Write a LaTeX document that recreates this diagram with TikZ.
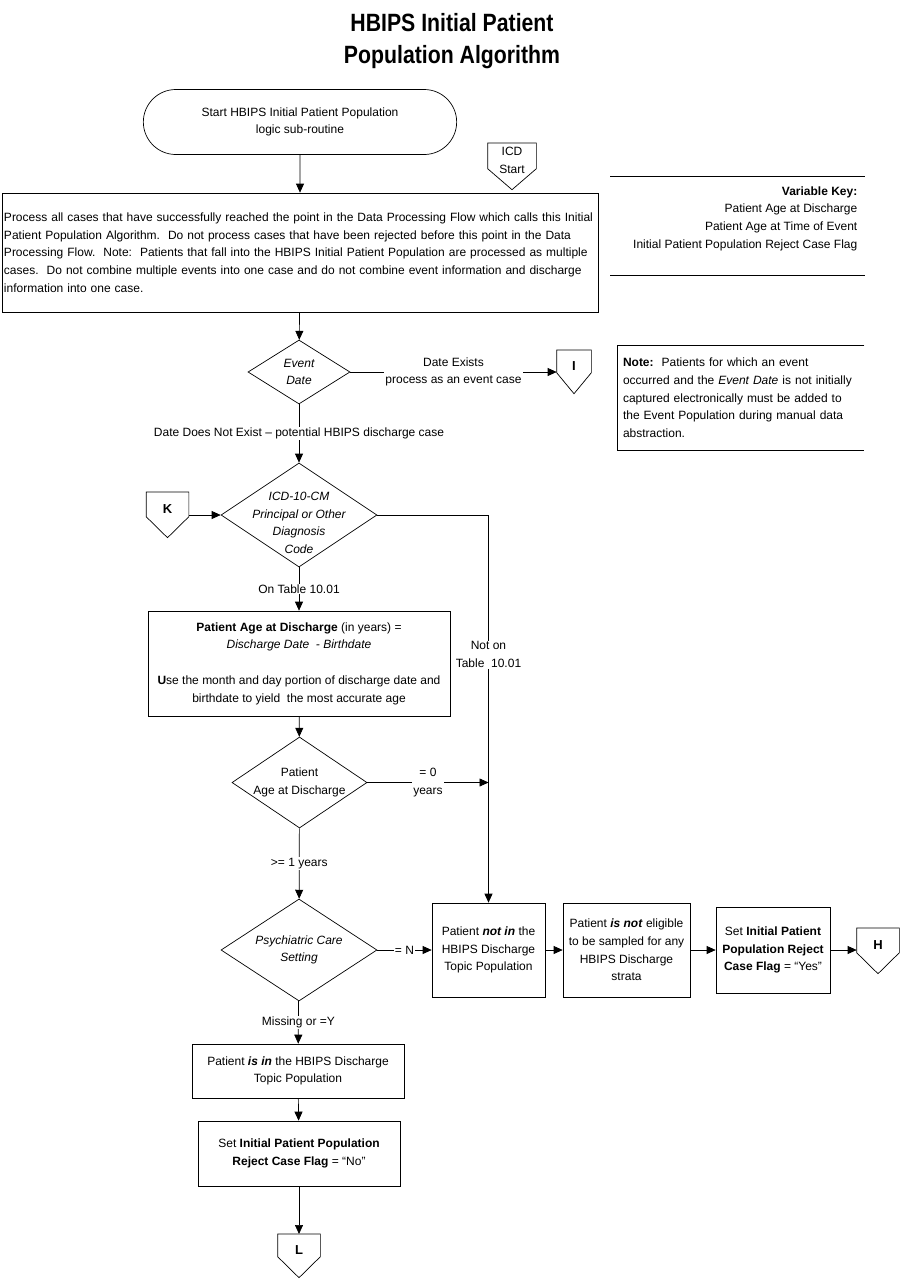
\documentclass[tikz,border=0pt]{standalone}
\usepackage{fontspec}
\setmainfont{Liberation Sans}
\newfontfamily\titlefont[FakeStretch=0.85]{Liberation Sans}
\usetikzlibrary{shapes.geometric,shapes.misc,arrows.meta}
\newcommand\bodyfont{\fontsize{12}{17.7}\selectfont}

\begin{document}
\begin{tikzpicture}[x=1pt, y=-1pt, line width=0.7pt,
    box/.style={draw, rectangle, align=center, inner sep=2pt, font=\bodyfont},
    dia/.style={draw, diamond, inner sep=0pt},
    dlab/.style={align=center, font=\bodyfont\itshape},
    page/.style={minimum width=42pt, minimum height=24pt, inner sep=0pt,
      text height=19pt, text depth=0pt,
      anchor=north, align=center, font=\fontsize{13}{15}\selectfont\bfseries,
      append after command={\pgfextra{\draw (\tikzlastnode.south west)
        -- (\tikzlastnode.north west) -- (\tikzlastnode.north east)
        -- (\tikzlastnode.south east) -- ([yshift=-21pt]\tikzlastnode.south)
        -- cycle;}}},
    lbl/.style={fill=white, inner sep=1pt, align=center, font=\bodyfont}]
  \useasboundingbox (0,0) rectangle (900,1286);
  \node [align=center, font=\titlefont\bfseries\fontsize{25}{32}\selectfont]
    (title) at (452,41) {HBIPS Initial Patient\\Population Algorithm};

  % main column
  \node [draw, rounded rectangle, minimum width=320pt, minimum height=65pt,
    align=center, font=\bodyfont] (start) at (300,122)
    {Start HBIPS Initial Patient Population\\logic sub-routine};
  \node [box, align=left, minimum width=596pt, minimum height=119pt,
    text width=592pt] (proc) at (300,252.5) {Process all cases that have
    successfully reached the point in the Data Processing Flow which calls
    this Initial\\Patient Population Algorithm.\ \ Do not process cases that
    have been rejected before this point in the Data\\Processing Flow.\ \
    Note:\ \ Patients that fall into the HBIPS Initial Patient Population are
    processed as multiple\\cases.\ \ Do not combine multiple events into one
    case and do not combine event information and discharge\\information
    into one case.};
  \node [dia, minimum width=102pt, minimum height=64pt,
    label={[dlab]center:Event\\Date}] (ed) at (299,372) {};
  \node [dia, minimum width=156pt, minimum height=104pt,
    label={[dlab, yshift=-8pt]center:ICD-10-CM\\Principal or Other\\Diagnosis\\Code}]
    (icd) at (299,515) {};
  \node [box, minimum width=302pt, minimum height=105pt] (age) at (299,663.5)
    {\textbf{Patient Age at Discharge} (in years) =\\\textit{Discharge Date\ \
    - Birthdate}\\[17.7pt]\textbf{U}se the month and day portion of discharge
    date and\\birthdate to yield\ \ the most accurate age};
  \node [dia, minimum width=135pt, minimum height=91pt,
    label={[dlab, font=\bodyfont]center:Patient\\Age at Discharge}]
    (agd) at (299.5,782.5) {};
  \node [dia, minimum width=156pt, minimum height=102pt,
    label={[dlab]center:Psychiatric Care\\Setting}] (psy) at (299,950) {};
  \node [box, minimum width=212pt, minimum height=54pt] (isin) at (298,1071)
    {Patient \textbf{\textit{is in}} the HBIPS Discharge\\Topic Population};
  \node [box, minimum width=202pt, minimum height=65pt] (rejno) at (299,1153.5)
    {Set \textbf{Initial Patient Population}\\\textbf{Reject Case Flag} = “No”};

  % right branch
  \node [box, minimum width=113pt, minimum height=94pt] (notin) at (488.5,950)
    {Patient \textbf{\textit{not in}} the\\HBIPS Discharge\\Topic Population};
  \node [box, minimum width=127pt, minimum height=94pt] (notel) at (626.5,950)
    {Patient \textbf{\textit{is not}} eligible\\to be sampled for any\\HBIPS
    Discharge\\strata};
  \node [box, minimum width=114pt, minimum height=86pt] (rejyes) at (773,950)
    {Set \textbf{Initial Patient}\\\textbf{Population Reject}\\\textbf{Case
    Flag} = “Yes”};
  \coordinate (join) at (notin.north |- agd.east);

  % off-page connectors
  \node [page, minimum width=48pt, minimum height=25pt, text height=0pt,
    label={[align=center, font=\bodyfont, yshift=-4.5pt]center:ICD\\Start}]
    (icds) at (512,143) {};
  \node [page, minimum width=34pt, minimum height=22pt] (ic) at (574,350) {I};
  \node [page] (kc) at (167.5,492) {K};
  \node [page] (hc) at (878,928) {H};
  \node [page, minimum height=22pt] (lc) at (299,1234) {L};

  % key and note
  \node [align=right, anchor=east, font=\bodyfont] (key) at (861,218.5)
    {\textbf{Variable Key:}\\Patient Age at Discharge\\Patient Age at Time of
    Event\\Initial Patient Population Reject Case Flag};
  \draw (610,176) -- (865,176) (610,275) -- (865,275);
  \node [align=left, font=\bodyfont, minimum width=246pt, minimum height=104pt,
    text width=236pt] (note) at (741,398) {\textbf{Note:}\ \ Patients for which
    an event\\occurred and the \textit{Event Date} is not initially\\captured
    electronically must be added to\\the Event Population during manual
    data\\abstraction.};
  \draw (note.north east) -- (note.north west) -- (note.south west)
    -- (note.south east);

  \begin{scope}[->, >={Triangle[length=9pt,width=8pt]}]
    \draw (start) -- (proc); \draw (proc) -- (ed);
    \draw (ed.east) -- node [lbl] {Date Exists\\process as an event case}
      (ed.east -| ic.west);
    \draw (ed) -- node [lbl] {Date Does Not Exist – potential HBIPS discharge
      case} (icd); \draw (kc.east |- icd.west) -- (icd.west);
    \draw (icd.east) -| node [lbl, pos=0.68] {Not on\\Table\ \ 10.01} (notin);
    \draw (icd) -- node [lbl] {On Table 10.01} (age); \draw (age) -- (agd);
    \draw (agd.east) -- node [lbl] {= 0\\years} (join);
    \draw (agd) -- node [lbl] {>= 1 years} (psy);
    \draw (psy.east) -- node [lbl] {= N} (notin);
    \draw (notin) -- (notel); \draw (notel) -- (rejyes);
    \draw (rejyes.east) -- (rejyes.east -| hc.west);
    \draw (psy) -- node [lbl] {Missing or =Y} (isin);
    \draw (isin) -- (rejno); \draw (rejno) -- (lc);
  \end{scope}
\end{tikzpicture}
\end{document}
